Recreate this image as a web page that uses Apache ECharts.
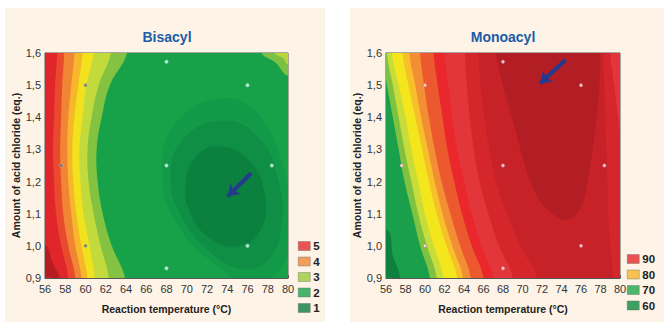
<!DOCTYPE html>
<html><head><meta charset="utf-8">
<script src="https://cdn.jsdelivr.net/npm/echarts@6/dist/echarts.min.js"></script>
<style>html,body{margin:0;padding:0;background:#fff}#c{width:664px;height:322px}</style>
</head><body><div id="c"></div>
<script>
// ---------- data ----------
const xTicks = [56,58,60,62,64,66,68,70,72,74,76,78,80];
const yTicks = [0.9,1.0,1.1,1.2,1.3,1.4,1.5,1.6];
const rowsA = [0.9,1.0,1.1,1.2,1.3,1.4,1.5,1.6];   // acid chloride rows where contour positions were read

// Bisacyl: temperature of each contour boundary at rowsA (left family of arcs)
const bisRedOrange   = [58.3,57.6,57.1,56.9,56.8,56.9,57.0,57.2];
const bisOrange      = [59.0,58.3,57.8,57.6,57.5,57.6,57.7,57.9];
const bisYelOrange   = [59.6,59.0,58.6,58.3,58.2,58.3,58.6,58.9];
const bisYellow      = [60.2,59.6,59.1,58.8,58.7,58.9,59.3,59.7];
const bisYelGreen    = [60.9,60.4,59.8,59.5,59.4,59.7,60.1,60.8];
const bisLightGreen  = [62.3,61.5,60.8,60.3,60.2,60.6,61.3,62.5];
const bisGreen       = [63.9,62.6,61.7,61.2,61.1,61.6,62.4,64.1];
// Bisacyl: dark-red corner and inner minimum ellipses
const bisCornerT = [56.0,57.4,56.7,56.0];
const bisCornerA = [0.9,0.9,0.95,1.0];
const bisE1T = [73.5,77.0,79.3,80.3,79.5,76.5,72.5,69.0,67.6,68.8];
const bisE1A = [1.46,1.41,1.27,1.08,0.94,0.88,0.95,1.07,1.22,1.38];
const bisE2T = [73.5,77.0,79.0,79.3,77.8,75.2,72.0,69.5,68.4,69.6];
const bisE2A = [1.39,1.34,1.21,1.05,0.95,0.93,0.99,1.09,1.21,1.33];
const bisE3T = [73.0,76.0,77.7,77.3,75.2,72.5,70.4,69.9,71.0];
const bisE3A = [1.31,1.27,1.16,1.05,1.0,1.02,1.1,1.2,1.28];
// Bisacyl: top-right corner patches
const bisTRLightT = [77.4,78.8,80.0];
const bisTRLightA = [1.6,1.57,1.53];
const bisTRYelT = [78.7,79.5,80.0];
const bisTRYelA = [1.6,1.585,1.565];

// Monoacyl: temperature of each contour boundary at rowsA
const monoCornerT = [56.0,57.4,56.7,56.0];
const monoCornerA = [0.9,0.9,0.97,1.05];
const monoLightGreen = [60.5,59.5,58.7,57.9,57.3,56.7,56.1,55.5];
const monoYelGreen   = [61.2,60.2,59.3,58.6,57.9,57.3,56.7,56.1];
const monoYellow     = [61.9,60.9,60.0,59.3,58.6,58.0,57.3,56.6];
const monoYelOrange  = [63.3,62.2,61.2,60.4,59.7,59.0,58.3,57.7];
const monoOrange     = [63.9,62.8,61.8,61.0,60.3,59.6,59.0,58.4];
const monoRedOrange  = [64.7,63.6,62.6,61.7,61.0,60.4,59.9,59.5];
const monoRed        = [66.0,64.8,63.8,63.0,62.3,61.8,61.3,60.9];
const monoRed2       = [67.0,65.8,64.8,64.0,63.3,62.8,62.4,62.0];
const monoRed3L      = [69.0,67.6,66.5,65.6,65.0,64.6,64.3,64.1];
const monoRed3R      = [80.5,80.5,80.5,80.5,80.2,79.8,79.4,79.0];
const monoRed4L      = [71.5,69.8,68.4,67.3,66.6,66.1,65.7,65.5];
const monoRed4R      = [79.3,79.0,78.8,78.7,78.6,78.5,78.4,78.3];
const monoDarkT = [67.3,68.0,68.9,69.8,70.8,72.3,74.5,76.0,76.7,77.2,77.6,77.9,78.0];
const monoDarkA = [1.6,1.5,1.4,1.3,1.2,1.12,1.08,1.12,1.2,1.3,1.4,1.5,1.6];

// experimental design points
const desT = [60,68,76,57.6,68,78.4,60,76,68];
const desA = [1.5,1.573,1.5,1.25,1.25,1.25,1.0,1.0,0.93];
const bisDarkIdx = [0,3,6];   // points that appear dark on the Bisacyl map
// arrows (tail -> head)
const bisArrow  = [[76.35,1.226],[74.05,1.154]];
const monoArrow = [[74.4,1.578],[71.8,1.505]];

const bisLegend  = ['5','4','3','2','1'];
const monoLegend = ['90','80','70','60'];

// ---------- build ----------
const HI = 1.7, LO = 0.8, FAR = 90;
const pair = (T,A) => T.map((t,i)=>[t,A[i]]);
function rightOf(b){ // region right of a boundary curve
  return [[b[0],LO], ...rowsA.map((a,i)=>[b[i],a]), [b[b.length-1],HI],[FAR,HI],[FAR,LO]];
}
function between(L,R){
  const left = rowsA.map((a,i)=>[L[i],a]);
  const right = rowsA.map((a,i)=>[R[i],a]).reverse();
  return [[L[0],LO], ...left, [L[L.length-1],HI],[R[R.length-1],HI], ...right, [R[0],LO]];
}
function cornerTR(T,A){ return [...pair(T,A), [FAR,A[A.length-1]-0.02],[FAR,HI],[T[0],HI]]; }

const bisPolys = [
  {pts:[[40,LO],[FAR,LO],[FAR,HI],[40,HI]], color:'#e1262b', smooth:0},
  {pts:[...pair(bisCornerT,bisCornerA),[40,1.0],[40,LO],[56,LO]], color:'#b51d22', smooth:0.3},
  {pts:rightOf(bisRedOrange), color:'#e94a2e'},
  {pts:rightOf(bisOrange), color:'#f08634'},
  {pts:rightOf(bisYelOrange), color:'#f6b72b'},
  {pts:rightOf(bisYellow), color:'#f1e21d'},
  {pts:rightOf(bisYelGreen), color:'#c3da3c'},
  {pts:rightOf(bisLightGreen), color:'#84c342'},
  {pts:rightOf(bisGreen), color:'#17a24a'},
  {pts:cornerTR(bisTRLightT,bisTRLightA), color:'#7cc143', smooth:0.3},
  {pts:cornerTR(bisTRYelT,bisTRYelA), color:'#b7d63c', smooth:0.3},
  {pts:pair(bisE1T,bisE1A), color:'#139a49', smooth:0.45},
  {pts:pair(bisE2T,bisE2A), color:'#0f8e45', smooth:0.45},
  {pts:pair(bisE3T,bisE3A), color:'#0b803f', smooth:0.45}
];
const monoPolys = [
  {pts:[[40,LO],[FAR,LO],[FAR,HI],[40,HI]], color:'#1a9f4a', smooth:0},
  {pts:[...pair(monoCornerT,monoCornerA),[40,1.05],[40,LO],[56,LO]], color:'#0f803d', smooth:0.3},
  {pts:rightOf(monoLightGreen), color:'#7fc242'},
  {pts:rightOf(monoYelGreen), color:'#c8dc3a'},
  {pts:rightOf(monoYellow), color:'#f4e61c'},
  {pts:rightOf(monoYelOrange), color:'#f7bf2a'},
  {pts:rightOf(monoOrange), color:'#f28e33'},
  {pts:rightOf(monoRedOrange), color:'#ec592e'},
  {pts:rightOf(monoRed), color:'#e9272c'},
  {pts:rightOf(monoRed2), color:'#e2363a'},
  {pts:between(monoRed3L,monoRed3R), color:'#d5262b'},
  {pts:between(monoRed4L,monoRed4R), color:'#c62228'},
  {pts:[...pair(monoDarkT,monoDarkA),[78.0,HI],[67.3,HI]], color:'#b31e25', smooth:0.35}
];

function renderer(polys){
  return function(params, api){
    const p = polys[params.dataIndex];
    return {type:'polygon', silent:true,
      shape:{points:p.pts.map(q=>api.coord(q)), smooth:(p.smooth===undefined?0.4:p.smooth)},
      style:{fill:p.color}};
  };
}
const fmtA = v => (Math.round(v*10)/10).toFixed(1).replace('.',',');
const font = 'Liberation Sans, Arial, sans-serif';

function xAx(gi){ return {gridIndex:gi, type:'value', min:56, max:80, interval:2,
  name:'Reaction temperature (°C)', nameLocation:'middle', nameGap:25,
  nameTextStyle:{fontFamily:font, fontWeight:'bold', fontSize:10.5, color:'#222'},
  axisLine:{show:true,lineStyle:{color:'#555',width:1}}, axisTick:{show:true,inside:true,length:3,lineStyle:{color:'#555'}},
  splitLine:{show:false},
  axisLabel:{fontFamily:font, fontSize:11, color:'#333', margin:5, formatter:v=>String(v)}}; }
function yAx(gi){ return {gridIndex:gi, type:'value', min:0.9, max:1.6, interval:0.1,
  name:'Amount of acid chloride (eq.)', nameLocation:'middle', nameGap:18, nameRotate:90,
  nameTextStyle:{fontFamily:font, fontWeight:'bold', fontSize:10.5, color:'#222'},
  axisLine:{show:true,lineStyle:{color:'#555',width:1}}, axisTick:{show:true,inside:true,length:3,lineStyle:{color:'#555'}},
  splitLine:{show:false},
  axisLabel:{fontFamily:font, fontSize:11, color:'#333', margin:4, formatter:fmtA}}; }

function dots(gi, idxList, color, border){
  return {type:'scatter', xAxisIndex:gi, yAxisIndex:gi, symbolSize:3.5, silent:true, z:5,
    itemStyle:{color:color, borderColor:border, borderWidth:0.6},
    data: idxList.map(i=>[desT[i],desA[i]])};
}
function arrow(gi, a){
  return {type:'scatter', xAxisIndex:gi, yAxisIndex:gi, data:[], z:6,
    markLine:{silent:true, animation:false, symbol:['none','arrow'], symbolSize:[11,11], precision:3,
      label:{show:false}, lineStyle:{color:'#233a8e', width:4, type:'solid', opacity:1},
      data:[[{coord:a[0]},{coord:a[1]}]]}};
}
const legendColors = {'5':'#e32a2e','4':'#f08a3a','3':'#9ccb3c','2':'#1aa24b','1':'#0d7b40',
                      '90':'#e32a2e','80':'#f6b52e','70':'#1fa64b','60':'#0e8a42'};
const allIdx = desT.map((_,i)=>i);
const bisLightIdx = allIdx.filter(i=>bisDarkIdx.indexOf(i)<0);

const series = [
  {type:'custom', xAxisIndex:0, yAxisIndex:0, clip:true, renderItem:renderer(bisPolys), silent:true,
   data:bisPolys.map(p=>[p.pts[0][0],p.pts[0][1]])},
  {type:'custom', xAxisIndex:1, yAxisIndex:1, clip:true, renderItem:renderer(monoPolys), silent:true,
   data:monoPolys.map(p=>[p.pts[0][0],p.pts[0][1]])},
  dots(0, bisLightIdx, '#e6fff2', '#7fd0b0'),
  dots(0, bisDarkIdx, '#666', '#ccc'),
  dots(1, allIdx, '#fff0f4', '#c06070'),
  arrow(0, bisArrow), arrow(1, monoArrow)
];
bisLegend.forEach(n=>series.push({type:'scatter', name:n, xAxisIndex:0, yAxisIndex:0, data:[], itemStyle:{color:legendColors[n]}}));
monoLegend.forEach(n=>series.push({type:'scatter', name:n, xAxisIndex:1, yAxisIndex:1, data:[], itemStyle:{color:legendColors[n]}}));

function legend(names, left, top){
  return {data:names, orient:'vertical', left:left, top:top, icon:'rect', itemWidth:12, itemHeight:9, itemGap:3.5,
    padding:0, selectedMode:false,
    itemStyle:{borderColor:'#666', borderWidth:0.5},
    textStyle:{fontFamily:font, fontWeight:'bold', fontSize:11.5, color:'#222', padding:[0,0,0,-2]}};
}

const chart = echarts.init(document.getElementById('c'), null, {renderer:'svg'});
chart.setOption({
  animation:false,
  backgroundColor:'#ffffff',
  graphic:[
    {type:'rect', z:-10, silent:true, shape:{x:5,y:8,width:320,height:314}, style:{fill:'#fdf4e7'}},
    {type:'rect', z:-10, silent:true, shape:{x:350,y:8,width:314,height:314}, style:{fill:'#fdf4e7'}}
  ],
  title:[
    {text:'Bisacyl', left:167, top:30, padding:0, textAlign:'center', textStyle:{fontFamily:font, fontWeight:'bold', fontSize:14, color:'#1b5ca8'}},
    {text:'Monoacyl', left:503, top:30, padding:0, textAlign:'center', textStyle:{fontFamily:font, fontWeight:'bold', fontSize:14, color:'#1b5ca8'}}
  ],
  grid:[
    {left:45, top:53, width:243, height:225, show:true, borderColor:'#555', borderWidth:1, backgroundColor:'transparent'},
    {left:386, top:53, width:234, height:225, show:true, borderColor:'#555', borderWidth:1, backgroundColor:'transparent'}
  ],
  xAxis:[xAx(0), xAx(1)],
  yAxis:[yAx(0), yAx(1)],
  legend:[legend(bisLegend, 298, 240), legend(monoLegend, 627, 253)],
  series:series
});
</script></body></html>
